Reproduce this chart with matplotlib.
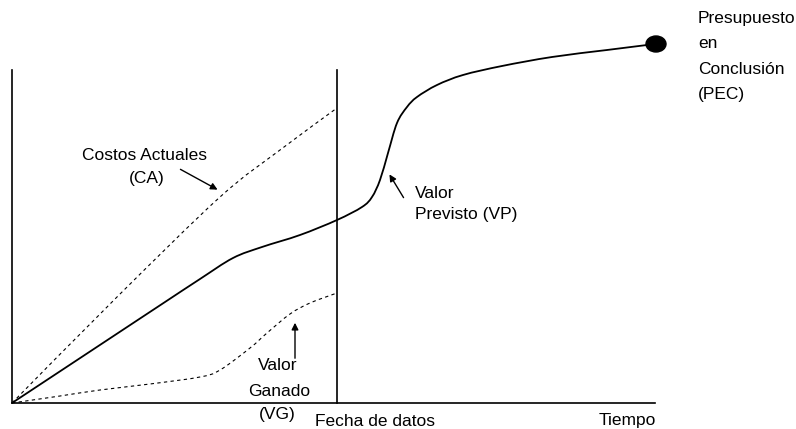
from matplotlib import pyplot as plt
from matplotlib.path import Path
from matplotlib.patches import PathPatch, Ellipse

plt.rcParams['font.family'] = ['Liberation Sans', 'DejaVu Sans']

# time axis / value axis (units)
vp_t = [0, 50, 100, 150, 188, 221, 250, 288, 325, 350, 360, 368, 376, 385, 395, 405,
        425, 451, 490, 540, 595, 643]
vp_v = [0, 33, 66, 99, 124, 145, 156, 168, 183, 196, 206, 223, 250, 280, 296, 306,
        318, 328, 337, 346, 353, 359]

ca_t = [0, 105, 208, 268, 325]
ca_v = [0, 106, 206, 253, 295]

vg_t = [0, 48, 88, 138, 188, 208, 238, 255, 278, 298, 325]
vg_v = [0, 7, 13, 19, 26, 33, 55, 70, 89, 100, 110]

data_date = 325
t_end = 643
v_top = 333


def smooth_path(xs, ys):
    # catmull-rom through the points, drawn as cubic beziers
    pts = list(zip(xs, ys))
    verts = [pts[0]]
    codes = [Path.MOVETO]
    for i in range(len(pts) - 1):
        p0 = pts[i - 1] if i > 0 else pts[i]
        p1 = pts[i]
        p2 = pts[i + 1]
        p3 = pts[i + 2] if i + 2 < len(pts) else pts[i + 1]
        c1 = (p1[0] + (p2[0] - p0[0]) / 6, p1[1] + (p2[1] - p0[1]) / 6)
        c2 = (p2[0] - (p3[0] - p1[0]) / 6, p2[1] - (p3[1] - p1[1]) / 6)
        verts += [c1, c2, p2]
        codes += [Path.CURVE4] * 3
    return Path(verts, codes)


fig = plt.figure(figsize=(7.96, 4.29), dpi=100)
ax = fig.add_axes([0, 0, 1, 1])
ax.set_xlim(-12, 784)
ax.set_ylim(-26, 403)
ax.axis('off')

# axes and data date line
ax.plot([0, 0], [0, v_top], color='black', lw=1.2)
ax.plot([0, t_end], [0, 0], color='black', lw=1.2)
ax.plot([data_date, data_date], [0, v_top], color='black', lw=1.2)

# curves
ax.add_patch(PathPatch(smooth_path(vp_t, vp_v), fill=False, edgecolor='black', lw=1.3))
ax.add_patch(PathPatch(smooth_path(ca_t, ca_v), fill=False, edgecolor='black', lw=0.8,
                       linestyle=(0, (3, 3))))
ax.add_patch(PathPatch(smooth_path(vg_t, vg_v), fill=False, edgecolor='black', lw=0.8,
                       linestyle=(0, (3, 3))))
ax.add_patch(Ellipse((vp_t[-1] + 1, vp_v[-1]), 20, 16, color='black'))

fs = 12.5
arrow = dict(arrowstyle='-|>', color='black', lw=1, mutation_scale=10)

ax.text(132.5, 248, 'Costos Actuales', ha='center', va='center', fontsize=fs)
ax.text(135, 225, '(CA)', ha='center', va='center', fontsize=fs)
ax.annotate('', xy=(208, 212), xytext=(166, 235), arrowprops=arrow)

ax.text(403, 210, 'Valor', ha='left', va='center', fontsize=fs)
ax.text(403, 189, 'Previsto (VP)', ha='left', va='center', fontsize=fs)
ax.annotate('', xy=(376, 231), xytext=(393, 203), arrowprops=arrow)

ax.text(266, 38, 'Valor', ha='center', va='center', fontsize=fs)
ax.text(267, 12, 'Ganado', ha='center', va='center', fontsize=fs)
ax.text(265, -12, '(VG)', ha='center', va='center', fontsize=fs)
ax.annotate('', xy=(283, 83), xytext=(283, 42), arrowprops=arrow)

ax.text(363, -18, 'Fecha de datos', ha='center', va='center', fontsize=fs)
ax.text(615, -17, 'Tiempo', ha='center', va='center', fontsize=fs)

pec = ['Presupuesto', 'en', 'Conclusión', '(PEC)']
for i, s in enumerate(pec):
    ax.text(686, 384 - 25 * i, s, ha='left', va='center', fontsize=fs)

fig.savefig('out.png', dpi=100)
